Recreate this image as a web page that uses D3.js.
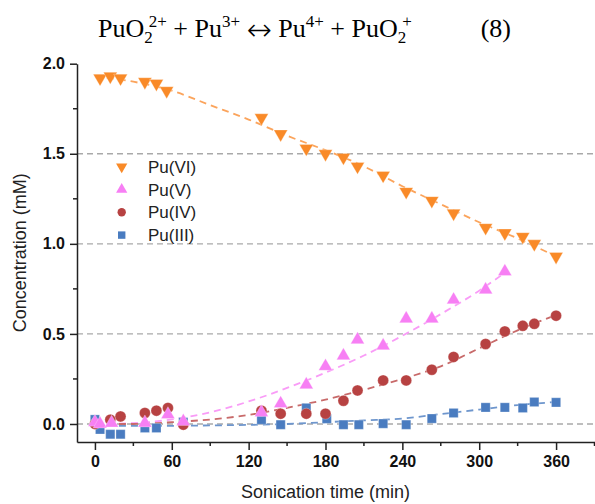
<!DOCTYPE html>
<html lang="en">
    <head>
        <meta charset="utf-8">
        <title>Pu speciation under sonication</title>
        <script type="text/javascript" src="https://cdn.jsdelivr.net/npm/d3@7/dist/d3.min.js"></script>
        <style>
            body { margin: 0; background: #fff; }
            svg { display: block; }
        </style>
    </head>

    <body>
        <script type="text/javascript">

            // measured points, time in min, concentration in mM
            var t_vi = [4, 12, 20, 39, 48, 56, 130, 145, 165, 180, 194, 205, 225, 243, 263, 280, 305, 320, 334, 343, 360];
            var c_vi = [1.92, 1.93, 1.92, 1.90, 1.89, 1.85, 1.70, 1.61, 1.53, 1.50, 1.48, 1.43, 1.38, 1.29, 1.24, 1.17, 1.09, 1.06, 1.04, 1.00, 0.93];

            var t_v = [0, 4, 13, 39, 57, 69, 130, 145, 165, 180, 194, 205, 225, 243, 263, 280, 305, 320];
            var c_v = [0.01, 0.0, 0.005, 0.006, 0.052, 0.014, 0.064, 0.113, 0.218, 0.32, 0.379, 0.468, 0.434, 0.584, 0.584, 0.689, 0.745, 0.846];

            var t_iv = [0, 12, 20, 39, 48, 57, 69, 130, 145, 165, 180, 194, 205, 225, 243, 263, 280, 305, 320, 334, 343, 360];
            var c_iv = [0.0, 0.024, 0.042, 0.061, 0.074, 0.089, -0.004, 0.074, 0.057, 0.057, 0.057, 0.129, 0.186, 0.242, 0.242, 0.301, 0.372, 0.444, 0.514, 0.545, 0.556, 0.601];

            var t_iii = [0, 4, 12, 20, 39, 48, 69, 130, 145, 165, 181, 194, 206, 225, 243, 263, 280, 305, 320, 334, 343, 360];
            var c_iii = [0.025, -0.03, -0.057, -0.057, -0.022, -0.022, 0.01, 0.024, -0.004, 0.089, 0.029, -0.004, -0.004, 0.002, -0.004, 0.03, 0.061, 0.092, 0.092, 0.089, 0.122, 0.12];

            // dashed fit curves
            var fit_t = [0, 30, 60, 90, 120, 150, 180, 210, 240, 270, 300, 330, 360];
            var fit_vi = [1.93, 1.90, 1.85, 1.77, 1.69, 1.60, 1.52, 1.43, 1.32, 1.22, 1.12, 1.03, 0.93];
            var fit_iv = [0.0, 0.0, 0.01, 0.025, 0.05, 0.09, 0.135, 0.19, 0.25, 0.32, 0.42, 0.52, 0.605];
            var fit_iii = [-0.01, -0.01, -0.01, -0.008, -0.005, 0.0, 0.01, 0.02, 0.03, 0.055, 0.08, 0.105, 0.122];
            var fit_v_t = [0, 30, 60, 90, 120, 150, 180, 210, 240, 270, 300, 322];
            var fit_v = [0.0, 0.005, 0.025, 0.065, 0.125, 0.2, 0.285, 0.38, 0.49, 0.61, 0.74, 0.85];

            // axis ticks
            var x_ticks = [0, 60, 120, 180, 240, 300, 360];
            var x_minor = [30, 90, 150, 210, 270, 330, 390];
            var y_ticks = [0.0, 0.5, 1.0, 1.5, 2.0];
            var y_minor = [0.25, 0.75, 1.25, 1.75];
            var grid_lines = [0.0, 0.5, 1.0, 1.5];

            var series_names = ["Pu(VI)", "Pu(V)", "Pu(IV)", "Pu(III)"];
            var marker_colors = ["#f98a28", "#f77ff4", "#b74242", "#4a7cc0"];
            var line_colors = ["#fba45c", "#f99cf7", "#c86a6a", "#6e96cd"];

            var width = 595, height = 504;

            var svg = d3.select("body")
                .append("svg")
                .attr("width", width)
                .attr("height", height);

            var x = d3.scaleLinear().domain([-14, 390]).range([77, 594.5]);
            var y = d3.scaleLinear().domain([-0.1, 2.0]).range([442, 63.7]);

            // title equation, pieces placed on absolute baselines
            var serif = "'Liberation Serif', 'Times New Roman', serif";
            var base_y = 37;
            var title = svg.append("text")
                .attr("x", 98)
                .attr("y", base_y)
                .style("font-family", serif)
                .style("font-size", "26px")
                .style("fill", "#000");
            function part(txt, off, size, dx, family, weight) {
                var ts = title.append("tspan").attr("y", base_y + off).text(txt);
                if (size) ts.style("font-size", size + "px");
                if (dx) ts.attr("dx", dx);
                if (family) ts.style("font-family", family);
                if (weight) ts.style("font-weight", weight);
                return ts;
            }
            part("PuO", 0);
            part("2", 6, 17);
            part("2+", -10, 17, -4);
            part(" + Pu", 0);
            part("3+", -10, 17);
            part(" ", 0);
            part("\u2194", 3, 30, 0, "'DejaVu Sans', sans-serif", 200);
            part(" Pu", 0);
            part("4+", -10, 17);
            part(" + PuO", 0);
            part("2", 6, 17);
            part("+", -10, 17, -4);
            svg.append("text")
                .attr("x", 511)
                .attr("y", base_y)
                .attr("text-anchor", "end")
                .style("font-family", serif)
                .style("font-size", "26px")
                .text("(8)");

            // gray dashed grid
            svg.append("g")
                .selectAll("line")
                .data(grid_lines)
                .enter()
                .append("line")
                .attr("x1", 77)
                .attr("x2", 595)
                .attr("y1", function(d) { return y(d); })
                .attr("y2", function(d) { return y(d); })
                .style("stroke", "#a9a9a9")
                .style("stroke-width", 1.3)
                .style("stroke-dasharray", "6,4");

            // fit curves
            function fit_line(ts, cs, color) {
                var pts = ts.map(function(t, i) { return [t, cs[i]]; });
                var line = d3.line()
                    .x(function(d) { return x(d[0]); })
                    .y(function(d) { return y(d[1]); })
                    .curve(d3.curveMonotoneX);
                svg.append("path")
                    .attr("d", line(pts))
                    .style("fill", "none")
                    .style("stroke", color)
                    .style("stroke-width", 1.8)
                    .style("stroke-dasharray", "7,5");
            }
            fit_line(fit_t, fit_vi, line_colors[0]);
            fit_line(fit_v_t, fit_v, line_colors[1]);
            fit_line(fit_t, fit_iv, line_colors[2]);
            fit_line(fit_t, fit_iii, line_colors[3]);

            // markers
            var sym_types = [d3.symbolTriangle, d3.symbolTriangle, d3.symbolCircle, d3.symbolSquare];
            var sym_sizes = [82, 82, 95, 85];
            var sym_rot = [180, 0, 0, 0];

            function draw_points(ts, cs, k) {
                var sym = d3.symbol().type(sym_types[k]).size(sym_sizes[k]);
                svg.append("g")
                    .selectAll("path")
                    .data(ts)
                    .enter()
                    .append("path")
                    .attr("d", sym)
                    .attr("transform", function(d, i) {
                        return "translate(" + x(d) + "," + y(cs[i]) + ") rotate(" + sym_rot[k] + ")";
                    })
                    .style("fill", marker_colors[k])
                    .style("stroke", "#fff")
                    .style("stroke-width", 0.4)
                    .style("stroke-opacity", 0.7);
            }
            // draw back to front
            draw_points(t_iii, c_iii, 3);
            draw_points(t_iv, c_iv, 2);
            draw_points(t_v, c_v, 1);
            draw_points(t_vi, c_vi, 0);

            // x axis
            var x_axis = svg.append("g")
                .attr("transform", "translate(0,442)")
                .call(d3.axisBottom(x).tickValues(x_ticks).tickSize(8).tickSizeOuter(0).tickPadding(6).tickFormat(d3.format("d")));
            x_axis.append("g")
                .selectAll("line")
                .data(x_minor)
                .enter()
                .append("line")
                .attr("x1", function(d) { return x(d); })
                .attr("x2", function(d) { return x(d); })
                .attr("y1", 0)
                .attr("y2", 4)
                .style("stroke", "#222")
                .style("stroke-width", 1.5);

            // y axis
            var y_axis = svg.append("g")
                .attr("transform", "translate(77,0)")
                .call(d3.axisLeft(y).tickValues(y_ticks).tickSize(7).tickSizeOuter(0).tickPadding(5).tickFormat(d3.format(".1f")));
            y_axis.append("g")
                .selectAll("line")
                .data(y_minor)
                .enter()
                .append("line")
                .attr("x1", 0)
                .attr("x2", -4)
                .attr("y1", function(d) { return y(d); })
                .attr("y2", function(d) { return y(d); })
                .style("stroke", "#222")
                .style("stroke-width", 1.5);

            svg.selectAll(".domain").style("stroke", "#222").style("stroke-width", 1.5);
            svg.selectAll(".tick line").style("stroke", "#222").style("stroke-width", 1.5);
            svg.selectAll(".tick text")
                .style("font-family", "Arial, 'Liberation Sans', sans-serif")
                .style("font-size", "16px")
                .style("font-weight", "bold")
                .style("fill", "#111");

            // axis titles
            svg.append("text")
                .attr("x", x(180))
                .attr("y", 498)
                .attr("text-anchor", "middle")
                .style("font-family", "Arial, 'Liberation Sans', sans-serif")
                .style("font-size", "18px")
                .style("fill", "#222")
                .text("Sonication time (min)");
            svg.append("text")
                .attr("transform", "translate(26," + y(0.95) + ") rotate(-90)")
                .attr("text-anchor", "middle")
                .style("font-family", "Arial, 'Liberation Sans', sans-serif")
                .style("font-size", "18px")
                .style("fill", "#222")
                .text("Concentration (mM)");

            // legend
            var legend = svg.append("g");
            series_names.forEach(function(name, k) {
                var ly = 166.7 + k * 22.8;
                legend.append("path")
                    .attr("d", d3.symbol().type(sym_types[k]).size(55))
                    .attr("transform", "translate(121.7," + ly + ") rotate(" + sym_rot[k] + ")")
                    .style("fill", marker_colors[k]);
                legend.append("text")
                    .attr("x", 148)
                    .attr("y", ly + 6)
                    .style("font-family", "Arial, 'Liberation Sans', sans-serif")
                    .style("font-size", "17px")
                    .style("fill", "#222")
                    .text(name);
            });
        </script>
    </body>
</html>
